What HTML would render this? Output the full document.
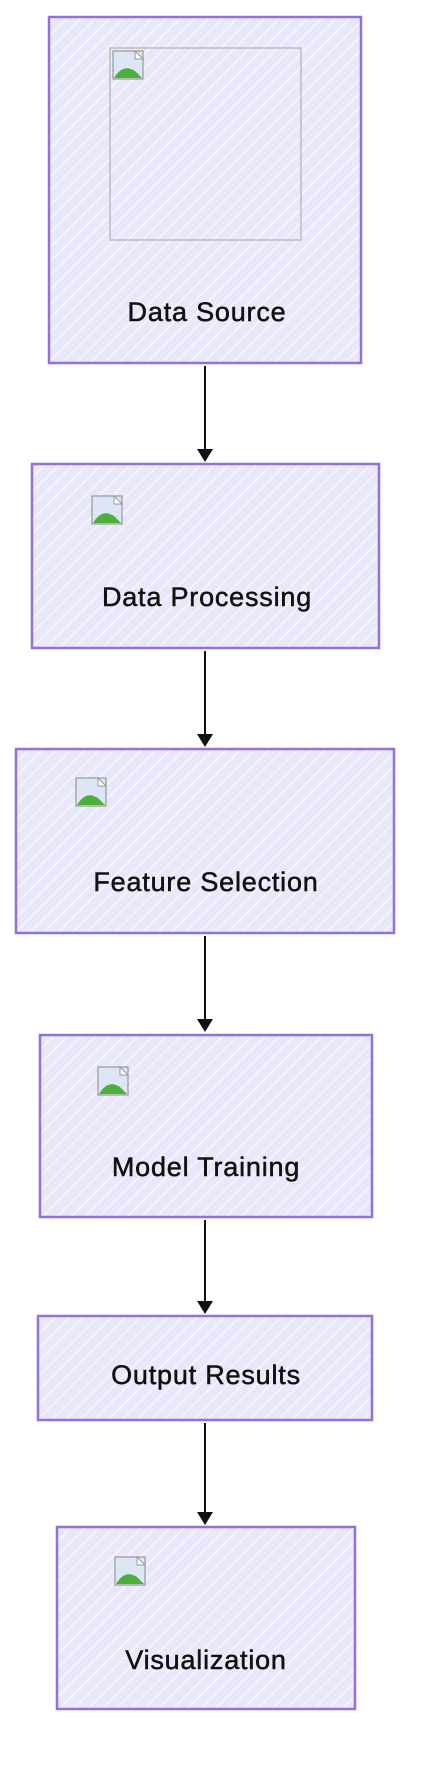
<!DOCTYPE html>
<html><head><meta charset="utf-8"><style>
html,body{margin:0;padding:0;background:#fff;width:428px;height:1784px;overflow:hidden}
svg{display:block}
text{font-family:"Liberation Sans",sans-serif;font-size:27px;fill:#111;text-anchor:middle;letter-spacing:0.8px;stroke:#111;stroke-width:0.5px}
</style></head><body>
<svg width="428" height="1784" viewBox="0 0 428 1784" xmlns="http://www.w3.org/2000/svg">
<defs>
<pattern id="h" width="10" height="10" patternUnits="userSpaceOnUse" patternTransform="rotate(45)">
<rect width="10" height="10" fill="#e8e8fa"/>
<line x1="0" y1="0" x2="0" y2="10" stroke="#ffffff" stroke-width="1.8"/>
</pattern>
<g id="ic">
<rect x="0" y="0" width="30" height="28" fill="#dce6f5" stroke="#999" stroke-width="1.2"/>
<path d="M1 27 Q10 12 22 20 L29 27 Z" fill="#4caf3a"/>
<path d="M22 0 L30 8 L22 8 Z" fill="#fff" stroke="#999" stroke-width="1"/>
</g>
</defs>
<g stroke="#9370db" stroke-width="2.5" fill="url(#h)">
<rect x="49" y="17" width="312" height="346"/>
<rect x="32" y="464" width="347" height="184"/>
<rect x="16" y="749" width="378" height="184"/>
<rect x="40" y="1035" width="332" height="182"/>
<rect x="38" y="1316" width="334" height="104"/>
<rect x="57" y="1527" width="298" height="182"/>
</g>
<rect x="110" y="48" width="191" height="192" fill="none" stroke="#bbb" stroke-width="1.5"/>
<use href="#ic" x="113" y="51"/>
<use href="#ic" x="92" y="496"/>
<use href="#ic" x="76" y="778"/>
<use href="#ic" x="98" y="1067"/>
<use href="#ic" x="115" y="1557"/>
<g stroke="#111" stroke-width="2" fill="none">
<line x1="205" y1="366" x2="205" y2="452"/>
<line x1="205" y1="651" x2="205" y2="737"/>
<line x1="205" y1="936" x2="205" y2="1022"/>
<line x1="205" y1="1220" x2="205" y2="1304"/>
<line x1="205" y1="1423" x2="205" y2="1515"/>
</g>
<g fill="#111">
<path d="M197 449 L213 449 L205 462 Z"/>
<path d="M197 734 L213 734 L205 747 Z"/>
<path d="M197 1019 L213 1019 L205 1032 Z"/>
<path d="M197 1301 L213 1301 L205 1314 Z"/>
<path d="M197 1512 L213 1512 L205 1525 Z"/>
</g>
<text x="207" y="321">Data Source</text>
<text x="207" y="606">Data Processing</text>
<text x="206" y="891">Feature Selection</text>
<text x="206" y="1176">Model Training</text>
<text x="206" y="1384">Output Results</text>
<text x="206" y="1669">Visualization</text>
</svg>
</body></html>
